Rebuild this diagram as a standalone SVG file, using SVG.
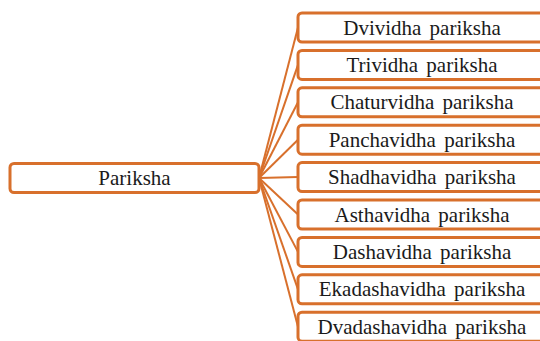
<svg xmlns="http://www.w3.org/2000/svg" width="540" height="341" viewBox="0 0 540 341">
<style>
.box{fill:#fff;stroke:#D8702C;stroke-width:3}
.lbl{font-family:"Liberation Serif","Times New Roman",serif;font-size:21px;fill:#1a1a1a;text-anchor:middle;word-spacing:3px}
.con line{stroke:#D8702C;stroke-width:2}
</style>
<rect width="540" height="341" fill="#fff"/>
<g id="connectors" class="con">
<line x1="259" y1="178" x2="298" y2="27.5"/>
<line x1="259" y1="178" x2="298" y2="64.9"/>
<line x1="259" y1="178" x2="298" y2="102.3"/>
<line x1="259" y1="178" x2="298" y2="139.7"/>
<line x1="259" y1="178" x2="298" y2="177.1"/>
<line x1="259" y1="178" x2="298" y2="214.5"/>
<line x1="259" y1="178" x2="298" y2="251.9"/>
<line x1="259" y1="178" x2="298" y2="289.3"/>
<line x1="259" y1="178" x2="298" y2="326.7"/>
</g>
<g id="root"><rect class="box" x="10" y="163.5" width="249" height="29" rx="4"/><text class="lbl" x="134.5" y="185">Pariksha</text></g>
<g id="n1"><rect class="box" x="298" y="13" width="248" height="29" rx="4"/><text class="lbl" x="422" y="34.5">Dvividha pariksha</text></g>
<g id="n2"><rect class="box" x="298" y="50.4" width="248" height="29" rx="4"/><text class="lbl" x="422" y="71.9">Trividha pariksha</text></g>
<g id="n3"><rect class="box" x="298" y="87.8" width="248" height="29" rx="4"/><text class="lbl" x="422" y="109.3">Chaturvidha pariksha</text></g>
<g id="n4"><rect class="box" x="298" y="125.2" width="248" height="29" rx="4"/><text class="lbl" x="422" y="146.7">Panchavidha pariksha</text></g>
<g id="n5"><rect class="box" x="298" y="162.6" width="248" height="29" rx="4"/><text class="lbl" x="422" y="184.1">Shadhavidha pariksha</text></g>
<g id="n6"><rect class="box" x="298" y="200" width="248" height="29" rx="4"/><text class="lbl" x="422" y="221.5">Asthavidha pariksha</text></g>
<g id="n7"><rect class="box" x="298" y="237.4" width="248" height="29" rx="4"/><text class="lbl" x="422" y="258.9">Dashavidha pariksha</text></g>
<g id="n8"><rect class="box" x="298" y="274.8" width="248" height="29" rx="4"/><text class="lbl" x="422" y="296.3">Ekadashavidha pariksha</text></g>
<g id="n9"><rect class="box" x="298" y="312.2" width="248" height="29" rx="4"/><text class="lbl" x="422" y="333.7">Dvadashavidha pariksha</text></g>
</svg>
